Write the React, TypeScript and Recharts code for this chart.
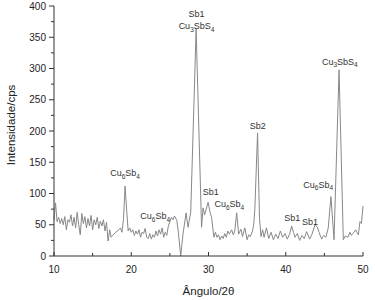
import React from "react";
import {
  LineChart,
  Line,
  XAxis,
  YAxis,
  ReferenceDot,
} from "recharts";

// diffractogram
const angles = [
  10.0, 10.1, 10.2, 10.4, 10.6, 10.8, 11.0, 11.2, 11.4, 11.6, 11.8,
  12.0, 12.2, 12.4, 12.6, 12.8, 13.0, 13.2, 13.4, 13.6, 13.8,
  14.0, 14.2, 14.4, 14.6, 14.8, 15.0, 15.2, 15.4, 15.6, 15.8,
  16.0, 16.2, 16.4, 16.6, 16.8, 17.0, 17.2, 17.4, 17.6, 18.0,
  18.4, 18.6, 18.8, 19.0, 19.2, 19.4, 19.6, 19.8,
  20.0, 20.2, 20.4, 20.6, 20.8, 21.0, 21.2, 21.4, 21.6, 21.8,
  22.0, 22.2, 22.4, 22.6, 22.8, 23.0, 23.2, 23.4, 23.6, 23.8,
  24.0, 24.2, 24.4, 24.6, 24.8, 25.0, 25.2, 25.4, 25.6, 25.9,
  26.1, 26.4, 26.7, 27.1, 27.35, 27.7, 28.4, 29.1, 29.3, 29.5,
  29.95, 30.2, 30.4, 30.7, 30.9, 31.1, 31.3, 31.5, 31.7, 31.9,
  32.1, 32.3, 32.5, 32.7, 33.0, 33.2, 33.4, 33.65, 33.9,
  34.2, 34.4, 34.7, 35.0, 35.2, 35.4, 35.7, 35.85, 36.0, 36.35,
  36.6, 36.8, 37.0, 37.2, 37.5, 37.8, 38.1, 38.4, 38.7,
  39.0, 39.3, 39.6, 39.9, 40.2, 40.5, 40.77, 41.0, 41.2, 41.5,
  41.8, 42.1, 42.4, 42.7, 43.1, 43.4, 43.8, 44.1, 44.3, 44.65,
  44.9, 45.2, 45.5, 45.85, 46.25, 46.9, 47.45, 47.7, 48.05,
  48.3, 48.5, 48.7, 49.05, 49.2, 49.4, 49.6, 49.8, 50.0,
];

const counts = [
  58, 72, 85, 55, 62, 52, 60, 50, 63, 42, 58,
  54, 66, 48, 62, 45, 70, 50, 34, 68, 52,
  63, 45, 60, 48, 65, 42, 58, 50, 62, 44,
  56, 48, 58, 40, 54, 24, 42, 30, 33, 38,
  42, 45, 38, 60, 112, 75, 40, 45,
  38, 42, 33, 40, 35, 42, 30, 38, 36, 44,
  30, 28, 36, 27, 34, 30, 40, 32, 42, 35,
  45, 30, 38, 33, 48, 55, 62, 58, 64, 57,
  38, 0, 35, 69, 46, 70, 363, 46, 77, 66,
  86, 70, 62, 30, 38, 30, 34, 26, 32, 28,
  36, 30, 40, 35, 42, 34, 40, 69, 35,
  43, 31, 45, 26, 34, 31, 40, 50, 75, 197,
  60, 31, 42, 30, 45, 28, 38, 26, 35,
  28, 40, 30, 36, 27, 35, 48, 38, 30, 36,
  25, 33, 28, 39, 27, 35, 50, 46, 38, 27,
  33, 30, 45, 95, 26, 298, 26, 32, 30,
  38, 33, 36, 42, 38, 34, 55, 52, 80,
];

// phase labels: "_" marks a subscript digit
const labelTexts = [
  "Cu_6Sb_4", "Cu_6Sb_4", "Sb1", "Cu_3SbS_4", "Sb1", "Cu_6Sb_4",
  "Sb2", "Sb1", "Sb1", "Cu_6Sb_4", "Cu_3SbS_4",
];
const labelAngles = [19.2, 23.1, 28.45, 28.45, 30.3, 32.7, 36.37, 40.85, 43.14, 44.2, 47.0];
const labelCounts = [128, 59, 382, 363, 98, 78, 203, 56, 50, 109, 306];

const xTicks = [10, 15, 20, 25, 30, 35, 40, 45, 50];
const yTicks = [0, 25, 50, 75, 100, 125, 150, 175, 200, 225, 250, 275, 300, 325, 350, 375, 400];

const data = angles.map((a, i) => ({ angle: a, cps: counts[i] }));

const FONT = "'Liberation Sans', Arial, sans-serif";
const AXIS = "#333";

function PhaseLabel(props: any) {
  const { cx, cy, text } = props;
  const parts = text.split(/(_\d)/).filter((s: string) => s.length > 0);
  let sub = false;
  return (
    <text x={cx} y={cy} textAnchor="middle" fontSize={9} fill="#333" fontFamily={FONT}>
      {parts.map((p: string, i: number) => {
        if (p.startsWith("_")) {
          sub = true;
          return (
            <tspan key={i} dy={2.5} fontSize={6.5}>
              {p.slice(1)}
            </tspan>
          );
        }
        const dy = sub ? -2.5 : 0;
        sub = false;
        return (
          <tspan key={i} dy={dy}>
            {p}
          </tspan>
        );
      })}
    </text>
  );
}

function YTick(props: any) {
  const { x, y, payload } = props;
  const major = payload.value % 50 === 0;
  return (
    <g>
      <line x1={x - (major ? 5 : 3)} x2={x} y1={y} y2={y} stroke={AXIS} />
      {major && (
        <text x={x - 8} y={y + 3.5} textAnchor="end" fontSize={10} fill="#222" fontFamily={FONT}>
          {payload.value}
        </text>
      )}
    </g>
  );
}

function XTick(props: any) {
  const { x, y, payload } = props;
  const major = payload.value % 10 === 0;
  return (
    <g>
      <line x1={x} x2={x} y1={y} y2={y - (major ? 4 : 3)} stroke={AXIS} />
      {major && (
        <text x={x} y={y + 17} textAnchor="middle" fontSize={10} fill="#222" fontFamily={FONT}>
          {payload.value}
        </text>
      )}
    </g>
  );
}

export default function App() {
  return (
    <div style={{ position: "absolute", left: 0, top: 0, background: "#fff" }}>
      <LineChart
        width={375}
        height={300}
        data={data}
        margin={{ top: 6, right: 12, left: 0, bottom: 0 }}
      >
        <XAxis
          dataKey="angle"
          type="number"
          domain={[10, 50]}
          ticks={xTicks}
          interval={0}
          tickSize={0}
          tickMargin={0}
          tickLine={false}
          tick={<XTick />}
          height={44}
          stroke={AXIS}
          label={{
            content: (p: any) => (
              <text
                x={p.viewBox.x + p.viewBox.width / 2}
                y={p.viewBox.y + 39}
                textAnchor="middle"
                fontSize={11.5}
                fill="#222"
                fontFamily={FONT}
              >
                Ângulo/2θ
              </text>
            ),
          }}
        />
        <XAxis xAxisId="top" orientation="top" dataKey="angle" type="number" domain={[10, 50]} height={0} tick={false} tickLine={false} stroke={AXIS} />
        <YAxis
          type="number"
          domain={[0, 400]}
          ticks={yTicks}
          interval={0}
          tickSize={0}
          tickMargin={0}
          tickLine={false}
          tick={<YTick />}
          width={54}
          stroke={AXIS}
          label={{
            content: () => (
              <text
                x={11}
                y={125}
                transform={`rotate(-90 11 125)`}
                textAnchor="middle"
                dominantBaseline="central"
                fontSize={11.5}
                fill="#222"
                fontFamily={FONT}
              >
                Intensidade/cps
              </text>
            ),
          }}
        />
        <YAxis yAxisId="right" orientation="right" domain={[0, 400]} width={0} tick={false} tickLine={false} stroke={AXIS} />
        <Line
          type="linear"
          dataKey="cps"
          stroke="#888"
          strokeWidth={1}
          dot={false}
          isAnimationActive={false}
        />
        {labelTexts.map((t, i) => (
          <ReferenceDot
            key={i}
            x={labelAngles[i]}
            y={labelCounts[i]}
            r={0}
            ifOverflow="visible"
            shape={(p: any) => <PhaseLabel cx={p.cx} cy={p.cy} text={t} />}
          />
        ))}
      </LineChart>
    </div>
  );
}
